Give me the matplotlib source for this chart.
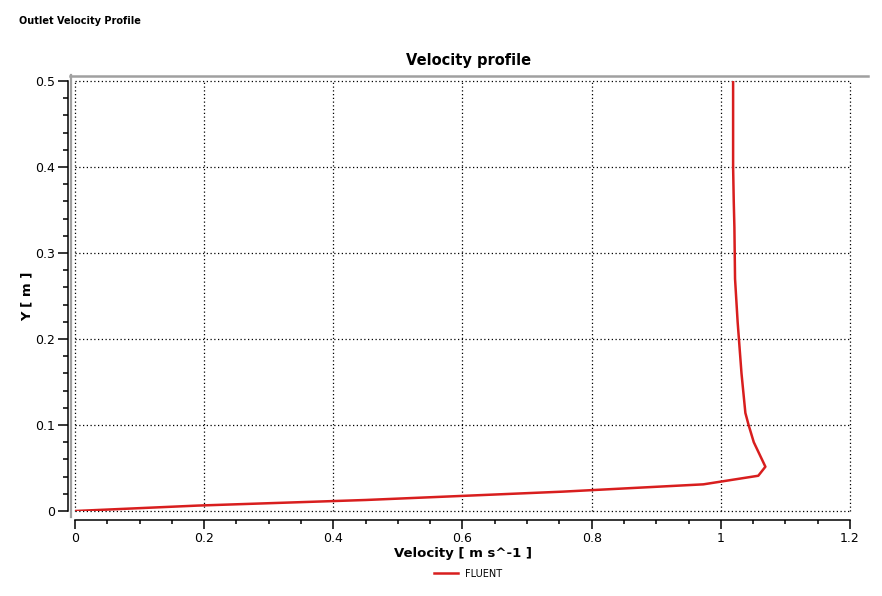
import numpy as np
import matplotlib
matplotlib.use("Agg")
import matplotlib.pyplot as plt
from matplotlib.lines import Line2D

# outlet velocity profile (FLUENT series)
velocity = [0.0, 0.19, 0.45, 0.755, 0.973, 1.058, 1.069, 1.063, 1.051, 1.043,
            1.038, 1.032, 1.029, 1.026, 1.022, 1.021, 1.020, 1.019, 1.019]
y_pos = [0.0, 0.0063, 0.0128, 0.0225, 0.031, 0.041, 0.0515, 0.061, 0.080, 0.100,
         0.114, 0.160, 0.190, 0.220, 0.270, 0.330, 0.360, 0.400, 0.500]

x_ticks = [0, 0.2, 0.4, 0.6, 0.8, 1, 1.2]
x_ticklabels = ["0", "0.2", "0.4", "0.6", "0.8", "1", "1.2"]
y_ticks = [0, 0.1, 0.2, 0.3, 0.4, 0.5]
y_ticklabels = ["0", "0.1", "0.2", "0.3", "0.4", "0.5"]

W, H = 882, 596
fig = plt.figure(figsize=(W / 100, H / 100), dpi=100)
plt.rcParams['font.family'] = ['DejaVu Sans']

# pixel box of the data area
left, right, top, bottom = 75, 850, 81, 511
ax = fig.add_axes([left / W, 1 - bottom / H, (right - left) / W, (bottom - top) / H])
ax.set_facecolor("none")

ax.plot(velocity, y_pos, color="#d81e1e", lw=1.8, label="FLUENT", zorder=3)

ax.set_xlim(0, 1.2)
ax.set_ylim(0, 0.5)
ax.set_xticks(x_ticks)
ax.set_xticklabels(x_ticklabels)
ax.set_yticks(y_ticks)
ax.set_yticklabels(y_ticklabels)
ax.set_xticks(np.arange(0, 1.2001, 0.05), minor=True)
ax.set_yticks(np.arange(0, 0.5001, 0.02), minor=True)

# dotted grid, drawn by hand so the edge lines are not clipped
for xv in x_ticks:
    ax.axvline(xv, color="black", linestyle=(0, (1, 2)), lw=0.9, clip_on=False, zorder=2)
for yv in y_ticks:
    ax.axhline(yv, color="black", linestyle=(0, (1, 2)), lw=0.9, clip_on=False, zorder=2)

for s in ["top", "right"]:
    ax.spines[s].set_visible(False)
ax.spines["left"].set_position(("outward", 5.0))
ax.spines["bottom"].set_position(("outward", 6.5))
ax.spines["left"].set_linewidth(1.1)
ax.spines["bottom"].set_linewidth(1.1)

ax.tick_params(axis="y", which="major", length=7.2, width=1.1, labelsize=9, pad=2)
ax.tick_params(axis="y", which="minor", length=3.6, width=1.1)
ax.tick_params(axis="x", which="major", length=6.3, width=1.1, labelsize=9, pad=2)
ax.tick_params(axis="x", which="minor", length=3.0, width=1.1)

ax.set_xlabel("Velocity [ m s^-1 ]", fontsize=9.5, fontweight="bold", labelpad=1.5)
ax.set_ylabel("Y [ m ]", fontsize=9.5, fontweight="bold", labelpad=1)

# grey frame on top and left
fig.add_artist(Line2D([70.5 / W, 70.5 / W], [1 - 75 / H, 1 - 517 / H], color="#a0a0a0", lw=1.6))
fig.add_artist(Line2D([70 / W, 868 / W], [1 - 76.3 / H, 1 - 76.3 / H], color="#a0a0a0", lw=1.8))

fig.text(469 / W, 1 - 60 / H, "Velocity profile", ha="center", va="center",
         fontsize=10.5, fontweight="bold")
fig.text(19 / W, 1 - 21 / H, "Outlet Velocity Profile", ha="left", va="center",
         fontsize=7, fontweight="bold")

# legend
fig.add_artist(Line2D([434 / W, 458 / W], [1 - 573 / H, 1 - 573 / H], color="#d81e1e", lw=1.8))
fig.text(465 / W, 1 - 574 / H, "FLUENT", ha="left", va="center", fontsize=7)

fig.savefig("out.png", dpi=100)
